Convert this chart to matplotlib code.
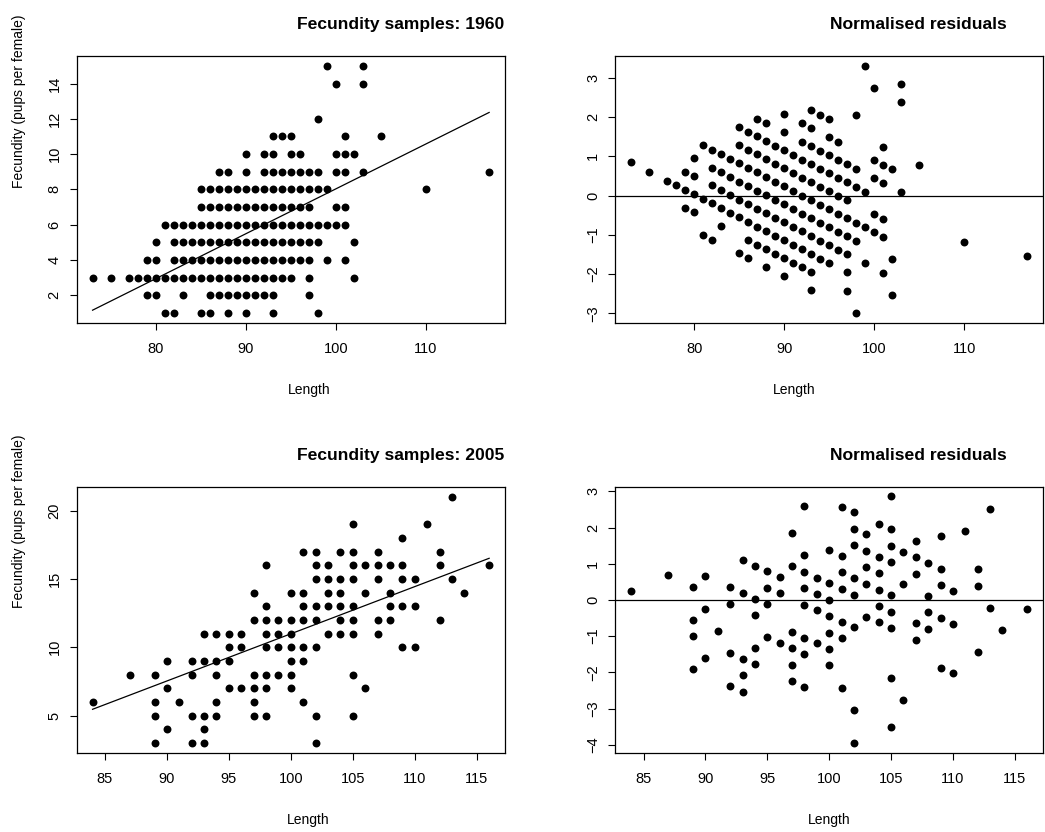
import matplotlib
matplotlib.use("Agg")
import matplotlib.pyplot as plt

plt.rcParams['font.family'] = ['Liberation Sans', 'DejaVu Sans']

# 1960 samples, listed by fecundity row
length_1960 = [
    81, 82, 85, 86, 88, 90, 93, 98,
    79, 80, 83, 86, 87, 88, 89, 90, 91, 92, 93, 97,
    73, 75, 77, 78, 79, 80, 81, 82, 83, 84, 85, 86, 87, 88, 89, 90, 91, 92, 93, 94, 95, 97, 102,
    79, 80, 82, 83, 84, 85, 86, 87, 88, 89, 90, 91, 92, 93, 94, 95, 96, 97, 99, 101,
    80, 82, 83, 84, 85, 86, 87, 88, 89, 90, 91, 92, 93, 94, 95, 96, 97, 98, 102,
    81, 82, 83, 84, 85, 86, 87, 88, 89, 90, 91, 92, 93, 94, 95, 96, 97, 98, 99, 100, 101,
    85, 86, 87, 88, 89, 90, 91, 92, 93, 94, 95, 96, 97, 100, 101,
    85, 86, 87, 88, 89, 90, 91, 92, 93, 94, 95, 96, 97, 98, 99, 110,
    87, 88, 90, 92, 93, 94, 95, 96, 97, 98, 100, 101, 103, 117,
    90, 92, 93, 95, 96, 100, 101, 102,
    93, 94, 95, 101, 105,
    98,
    100, 103,
    99, 103,
]
fecundity_1960 = ([1] * 8 + [2] * 12 + [3] * 23 + [4] * 20 + [5] * 19 + [6] * 21
                  + [7] * 15 + [8] * 16 + [9] * 14 + [10] * 8 + [11] * 5 + [12] * 1
                  + [14] * 2 + [15] * 2)
resid_1960 = [
    -1.00, -1.12, -1.47, -1.59, -1.82, -2.06, -2.41, -2.99,
    -0.31, -0.43, -0.78, -1.13, -1.25, -1.36, -1.48, -1.60, -1.71, -1.83, -1.95, -2.42,
    0.85, 0.61, 0.38, 0.26, 0.15, 0.03, -0.09, -0.20, -0.32, -0.44, -0.55, -0.67, -0.79,
    -0.91, -1.02, -1.14, -1.26, -1.37, -1.49, -1.61, -1.72, -1.96, -2.54,
    0.61, 0.49, 0.26, 0.14, 0.02, -0.10, -0.21, -0.33, -0.45, -0.56, -0.68, -0.80, -0.91,
    -1.03, -1.15, -1.27, -1.38, -1.50, -1.73, -1.97,
    0.95, 0.71, 0.60, 0.48, 0.36, 0.25, 0.13, 0.01, -0.10, -0.22, -0.34, -0.46, -0.57,
    -0.69, -0.81, -0.92, -1.04, -1.16, -1.62,
    1.29, 1.17, 1.06, 0.94, 0.82, 0.71, 0.59, 0.47, 0.36, 0.24, 0.12, 0.00, -0.11, -0.23,
    -0.35, -0.46, -0.58, -0.70, -0.81, -0.93, -1.05,
    1.28, 1.16, 1.05, 0.93, 0.81, 0.70, 0.58, 0.46, 0.35, 0.23, 0.11, -0.01, -0.12, -0.47, -0.59,
    1.74, 1.62, 1.51, 1.39, 1.27, 1.16, 1.04, 0.92, 0.80, 0.69, 0.57, 0.45, 0.34, 0.22, 0.10, -1.18,
    1.96, 1.85, 1.61, 1.38, 1.26, 1.15, 1.03, 0.91, 0.80, 0.68, 0.45, 0.33, 0.09, -1.54,
    2.07, 1.84, 1.72, 1.49, 1.37, 0.90, 0.79, 0.67,
    2.18, 2.06, 1.95, 1.25, 0.78,
    2.05,
    2.74, 2.39,
    3.31, 2.85,
]
fit_1960_x = [73, 117]
fit_1960_y = [1.15, 12.36]

# 2005 samples, listed by length
length_2005 = ([84] + [87] + [89] * 4 + [90] * 3 + [91] + [92] * 4 + [93] * 5 + [94] * 5
               + [95] * 4 + [96] * 3 + [97] * 6 + [98] * 8 + [99] * 4 + [100] * 7 + [101] * 7
               + [102] * 8 + [103] * 5 + [104] * 6 + [105] * 9 + [106] * 3 + [107] * 5
               + [108] * 4 + [109] * 5 + [110] * 3 + [111] + [112] * 3 + [113] * 2 + [114] + [116])
fecundity_2005 = [
    6, 8, 3, 5, 6, 8, 4, 7, 9, 6, 3, 5, 8, 9, 3, 4, 5, 9, 11, 5, 6, 8, 9, 11,
    7, 9, 10, 11, 7, 10, 11, 5, 6, 7, 8, 12, 14, 5, 7, 8, 10, 11, 12, 13, 16,
    8, 10, 11, 12, 7, 8, 9, 10, 11, 12, 14, 6, 9, 10, 12, 13, 14, 17,
    3, 5, 10, 12, 13, 15, 16, 17, 11, 13, 14, 15, 16, 11, 12, 13, 14, 15, 17,
    5, 8, 11, 12, 13, 15, 16, 17, 19, 7, 14, 16, 11, 12, 15, 16, 17, 12, 13, 14, 16,
    10, 13, 15, 16, 18, 10, 13, 15, 19, 12, 16, 17, 15, 21, 14, 16,
]
resid_2005 = [
    0.25, 0.68, -1.90, -0.99, -0.54, 0.37, -1.61, -0.24, 0.67, -0.85,
    -2.37, -1.47, -0.10, 0.35, -2.53, -2.08, -1.62, 0.20, 1.11,
    -1.78, -1.33, -0.42, 0.04, 0.95, -1.03, -0.12, 0.34, 0.79, -1.18, 0.18, 0.63,
    -2.25, -1.80, -1.34, -0.89, 0.93, 1.84,
    -2.41, -1.50, -1.05, -0.14, 0.32, 0.77, 1.23, 2.59,
    -1.20, -0.29, 0.16, 0.62,
    -1.81, -1.36, -0.90, -0.45, 0.00, 0.46, 1.37,
    -2.42, -1.06, -0.61, 0.30, 0.76, 1.21, 2.57,
    -3.95, -3.04, -0.76, 0.15, 0.60, 1.51, 1.96, 2.42,
    -0.47, 0.44, 0.90, 1.35, 1.81,
    -0.62, -0.17, 0.28, 0.74, 1.19, 2.10,
    -3.51, -2.15, -0.78, -0.33, 0.13, 1.04, 1.49, 1.95, 2.86,
    -2.76, 0.43, 1.33,
    -1.10, -0.64, 0.72, 1.18, 1.63,
    -0.80, -0.34, 0.11, 1.02,
    -1.87, -0.50, 0.41, 0.86, 1.77,
    -2.02, -0.66, 0.25,
    1.91,
    -1.43, 0.39, 0.85,
    -0.22, 2.51,
    -0.83,
    -0.24,
]
fit_2005_x = [84, 116]
fit_2005_y = [5.46, 16.52]

W, H = 1045, 832
fig = plt.figure(figsize=(W / 100, H / 100), dpi=100)


def box(left, top, right, bottom):
    return fig.add_axes([left / W, 1 - bottom / H, (right - left) / W, (bottom - top) / H])


def style(ax, xlim, ylim, xticks, yticks):
    ax.set_xlim(xlim)
    ax.set_ylim(ylim)
    ax.set_xticks(xticks)
    ax.set_yticks(yticks)
    ax.tick_params(direction='out', length=5, width=0.8, labelsize=10.5, colors='black')
    ax.tick_params(axis='x', pad=9)
    ax.tick_params(axis='y', pad=6, labelrotation=90)
    for lab in ax.get_yticklabels():
        lab.set_va('center')
    for s in ax.spines.values():
        s.set_linewidth(0.9)


ax1 = box(76.7, 56, 505, 322.7)
ax1.plot(length_1960, fecundity_1960, 'o', color='black', ms=5.7, mew=0)
ax1.plot(fit_1960_x, fit_1960_y, color='black', lw=0.9)
style(ax1, (71.24, 118.76), (0.44, 15.56), [80, 90, 100, 110], [2, 4, 6, 8, 10, 12, 14])

ax2 = box(615.3, 56, 1043, 322.7)
ax2.plot(length_1960, resid_1960, 'o', color='black', ms=5.7, mew=0)
ax2.axhline(0, color='black', lw=0.9)
style(ax2, (71.24, 118.76), (-3.24, 3.56), [80, 90, 100, 110], [-3, -2, -1, 0, 1, 2, 3])

ax3 = box(76.7, 487.3, 505, 752.7)
ax3.plot(length_2005, fecundity_2005, 'o', color='black', ms=5.7, mew=0)
ax3.plot(fit_2005_x, fit_2005_y, color='black', lw=0.9)
style(ax3, (82.72, 117.28), (2.28, 21.72), [85, 90, 95, 100, 105, 110, 115], [5, 10, 15, 20])

ax4 = box(615.3, 486.7, 1043, 752.7)
ax4.plot(length_2005, resid_2005, 'o', color='black', ms=5.7, mew=0)
ax4.axhline(0, color='black', lw=0.9)
style(ax4, (82.72, 117.28), (-4.22, 3.13), [85, 90, 95, 100, 105, 110, 115],
      [-4, -3, -2, -1, 0, 1, 2, 3])

# titles
for x, y, t in [(297, 29, 'Fecundity samples: 1960'), (830, 29, 'Normalised residuals'),
                (297, 460, 'Fecundity samples: 2005'), (830, 460, 'Normalised residuals')]:
    fig.text(x / W, 1 - y / H, t, ha='left', va='baseline', fontsize=12.6, fontweight='bold')

# x labels
for x, y in [(309, 390), (794, 390), (308, 820), (829, 820)]:
    fig.text(x / W, 1 - y / H, 'Length', ha='center', va='center', fontsize=10)

# y labels
for y in [188, 608]:
    fig.text(19 / W, 1 - y / H, 'Fecundity (pups per female)', rotation=90,
             ha='center', va='bottom', fontsize=10)

fig.savefig('out.png', dpi=100)
